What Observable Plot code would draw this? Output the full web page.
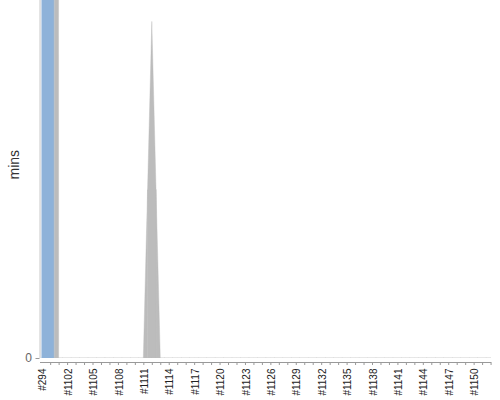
<!DOCTYPE html>
<html>
<head>
<meta charset="utf-8">
<script src="https://cdn.jsdelivr.net/npm/d3@7"></script>
<script src="https://cdn.jsdelivr.net/npm/@observablehq/plot@0.6"></script>
<style>
  html, body { margin: 0; padding: 0; background: #fff; }
</style>
</head>
<body>
<div id="chart"></div>
<script>
// Build labels (categories)
const builds = ["#294", "#1100", "#1101", "#1102", "#1103", "#1104", "#1105", "#1106", "#1107", "#1108",
  "#1109", "#1110", "#1111", "#1112", "#1113", "#1114", "#1115", "#1116", "#1117", "#1118",
  "#1119", "#1120", "#1121", "#1122", "#1123", "#1124", "#1125", "#1126", "#1127", "#1128",
  "#1129", "#1130", "#1131", "#1132", "#1133", "#1134", "#1135", "#1136", "#1137", "#1138",
  "#1139", "#1140", "#1141", "#1142", "#1143", "#1144", "#1145", "#1146", "#1147", "#1148",
  "#1149", "#1150", "#1151"];

// Build durations in minutes (#294 runs far beyond the visible range)
const durations = [3000, 0, 0, 0, 0, 0, 0, 0, 0, 0,
  0, 0, 28.2, 0, 0, 0, 0, 0, 0, 0,
  0, 0, 0, 0, 0, 0, 0, 0, 0, 0,
  0, 0, 0, 0, 0, 0, 0, 0, 0, 0,
  0, 0, 0, 0, 0, 0, 0, 0, 0, 0,
  0, 0, 0];

// Build results
const statuses = ["SUCCESS", "ABORTED", "ABORTED", "ABORTED", "ABORTED", "ABORTED", "ABORTED", "ABORTED", "ABORTED", "ABORTED",
  "ABORTED", "ABORTED", "ABORTED", "ABORTED", "ABORTED", "ABORTED", "ABORTED", "ABORTED", "ABORTED", "ABORTED",
  "ABORTED", "ABORTED", "ABORTED", "ABORTED", "ABORTED", "ABORTED", "ABORTED", "ABORTED", "ABORTED", "ABORTED",
  "ABORTED", "ABORTED", "ABORTED", "ABORTED", "ABORTED", "ABORTED", "ABORTED", "ABORTED", "ABORTED", "ABORTED",
  "ABORTED", "ABORTED", "ABORTED", "ABORTED", "ABORTED", "ABORTED", "ABORTED", "ABORTED", "ABORTED", "ABORTED",
  "ABORTED", "ABORTED", "ABORTED"];

// Tick labels shown on the x axis
const xTickLabels = ["#294", "#1102", "#1105", "#1108", "#1111", "#1114", "#1117", "#1120", "#1123",
  "#1126", "#1129", "#1132", "#1135", "#1138", "#1141", "#1144", "#1147", "#1150"];
const yTicks = [0];
const yMax = 30;

const statusNames = ["SUCCESS", "ABORTED"];
const statusColors = ["#8eb2d9", "#bcbcbc"];

// Stacked-area style polygons: each build spans half a category each side,
// edges meet at the average of neighbouring durations.
const n = builds.length;
const pts = [];
builds.forEach((b, i) => {
  const d = durations[i];
  const prev = i > 0 ? durations[i - 1] : d;
  const next = i < n - 1 ? durations[i + 1] : d;
  const left = i > 0 ? i - 0.5 : i - 1;
  const right = i + 0.5;
  pts.push({item: i, status: statuses[i], x: left, y: (prev + d) / 2});
  pts.push({item: i, status: statuses[i], x: i, y: d});
  pts.push({item: i, status: statuses[i], x: right, y: (d + next) / 2});
});

const xDomain = [-1.2, n - 0.95];
const allIdx = builds.map((b, i) => i);
const labelIdx = xTickLabels.map(l => builds.indexOf(l));

const chart = Plot.plot({
  width: 500,
  height: 400,
  marginLeft: 40,
  marginRight: 9,
  marginTop: 0,
  marginBottom: 42,
  style: {fontFamily: "'Liberation Sans', Arial, sans-serif", background: "#fff", overflow: "visible"},
  x: {type: "linear", domain: xDomain, axis: null},
  y: {domain: [0, yMax], axis: null},
  color: {domain: statusNames, range: statusColors},
  marks: [
    Plot.areaY(pts, {x: "x", y1: 0, y2: "y", z: "item", fill: "status", stroke: "status", strokeWidth: 0.4, clip: true}),
    Plot.ruleX([xDomain[0]], {stroke: "#c8c8c8", dx: -0.5}),
    Plot.ruleY([0], {dy: 4, stroke: "#999"}),
    Plot.axisX(allIdx, {tickSize: 3, dy: 4, tickFormat: () => "", stroke: "#999", label: null}),
    Plot.axisX(labelIdx, {tickSize: 0, tickPadding: 6, dy: 4, dx: -7.5, tickRotate: -90,
      tickFormat: i => builds[i], fontSize: 10, fill: "#222", label: null}),
    Plot.axisY(yTicks, {tickSize: 4, tickPadding: 4, fontSize: 12, stroke: "#999", fill: "#666", dx: -0.5, label: null}),
    Plot.text(["mins"], {frameAnchor: "left", rotate: -90, dx: -26, fontSize: 14, fill: "#333"})
  ]
});
document.getElementById("chart").appendChild(chart);
</script>
</body>
</html>
